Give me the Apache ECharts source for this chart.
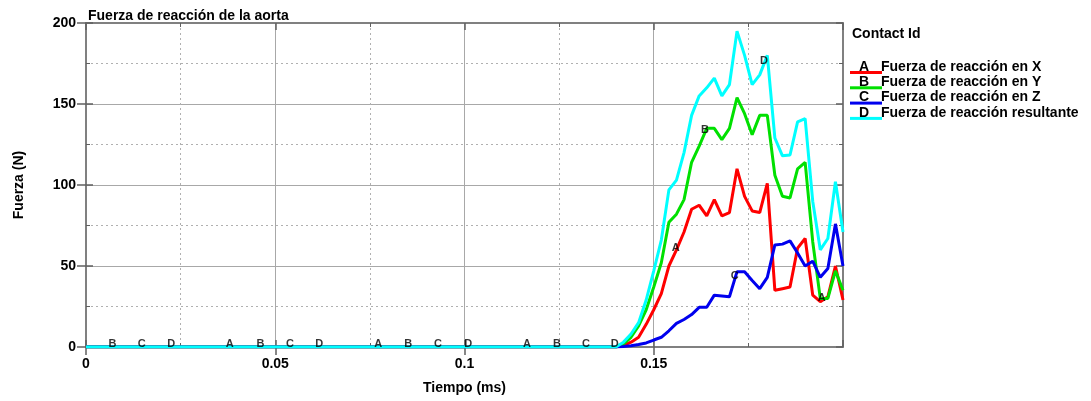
<!DOCTYPE html>
<html>
<head>
<meta charset="utf-8">
<script src="https://cdn.jsdelivr.net/npm/echarts@6/dist/echarts.min.js"></script>
<style>
  html, body { margin: 0; padding: 0; background: #ffffff; }
  #chart { width: 1091px; height: 401px; }
</style>
</head>
<body>
<div id="chart"></div>
<script>
// Sample times (ms) — all forces are zero until 0.14
const times = [0, 0.140, 0.142, 0.144, 0.146, 0.148, 0.150, 0.152, 0.154, 0.156, 0.158,
  0.160, 0.162, 0.164, 0.166, 0.168, 0.170, 0.172, 0.174, 0.176, 0.178,
  0.180, 0.182, 0.184, 0.186, 0.188, 0.190, 0.192, 0.194, 0.196, 0.198, 0.200];

// Reaction force components and resultant (N)
const fuerzaX = [0, 0, 1, 3, 6, 14, 23, 33, 50, 60, 71,
  85, 87.5, 81, 91, 81, 83, 110, 93, 84, 83,
  101, 35, 36, 37, 61, 67, 32, 28, 31, 50, 29];
const fuerzaY = [0, 0, 2, 6, 13, 23, 37, 52, 77, 82, 91,
  114, 124, 135, 135, 128, 135, 154, 144, 131, 143,
  143, 106, 93, 92, 110, 114, 65, 30, 30, 47, 35];
const fuerzaZ = [0, 0, 0.3, 0.8, 1.5, 2.5, 4.3, 6, 10, 14.6, 17,
  20, 24.5, 24.5, 32, 31.5, 31, 46.5, 46.5, 41, 36,
  43, 63, 63.5, 65.5, 58, 50, 53, 43, 48.5, 76, 50];
const fuerzaResultante = [0, 0, 3, 8, 15, 29, 47, 66, 97, 103, 120,
  143, 155, 160, 166, 155, 162, 195, 180, 162, 168,
  180, 129, 118, 118.5, 139, 141, 90, 60, 67, 102, 71];

const seriesNames = ['Fuerza de reacción en X', 'Fuerza de reacción en Y',
  'Fuerza de reacción en Z', 'Fuerza de reacción resultante'];
const seriesLetters = ['A', 'B', 'C', 'D'];
const seriesValues = [fuerzaX, fuerzaY, fuerzaZ, fuerzaResultante];
const seriesColors = ['#ff0000', '#00e000', '#0000ee', '#00ffff'];

// Times at which each curve carries its identifying letter
const letterTimes = [
  [0.0380, 0.0772, 0.1165, 0.1558, 0.1944],
  [0.0070, 0.0461, 0.0851, 0.1244, 0.1635],
  [0.0147, 0.0539, 0.0930, 0.1321, 0.1714],
  [0.0225, 0.0616, 0.1010, 0.1397, 0.1791]
];

const titleText = 'Fuerza de reacción de la aorta';
const legendTitle = 'Contact Id';
const xName = 'Tiempo (ms)';
const yName = 'Fuerza (N)';

const FONT = '"Liberation Sans", Arial, sans-serif';
const GRID = { left: 86, right: 248, top: 23, bottom: 54 };

// value on a curve at time t (for placing the letters on the lines)
function valueAt(vals, t) {
  for (let i = 0; i < times.length - 1; i++) {
    if (t >= times[i] && t <= times[i + 1]) {
      const f = (t - times[i]) / (times[i + 1] - times[i]);
      return vals[i] + f * (vals[i + 1] - vals[i]);
    }
  }
  return vals[vals.length - 1];
}

const lineSeries = seriesValues.map((vals, k) => ({
  name: seriesNames[k],
  type: 'line',
  data: times.map((t, i) => [t, vals[i]]),
  showSymbol: false,
  symbol: 'none',
  lineStyle: { color: seriesColors[k], width: 3 },
  itemStyle: { color: seriesColors[k] },
  z: 3 + k,
  silent: true
}));

const letterSeries = seriesValues.map((vals, k) => ({
  type: 'scatter',
  data: letterTimes[k].map(t => [t, valueAt(vals, t)]),
  symbol: 'circle',
  symbolSize: 1,
  itemStyle: { color: 'rgba(0,0,0,0)' },
  label: {
    show: true,
    position: 'inside',
    offset: [0, -3],
    formatter: seriesLetters[k],
    color: '#000',
    fontFamily: FONT,
    fontWeight: 'bold',
    fontSize: 11
  },
  z: 10,
  silent: true
}));

const frameColor = '#808080';
const majorGrid = { show: true, lineStyle: { color: '#a8a8a8', width: 1, type: 'solid' } };
const minorGrid = { show: true, lineStyle: { color: '#b0b0b0', width: 1, type: [2, 3] } };

const xBase = { type: 'value', min: 0, max: 0.2, interval: 0.05, gridIndex: 0 };
const yBase = { type: 'value', min: 0, max: 200, interval: 50, gridIndex: 0 };

const xAxes = [
  Object.assign({}, xBase, {
    position: 'bottom',
    name: xName,
    nameLocation: 'middle',
    nameGap: 34,
    nameTextStyle: { fontFamily: FONT, fontWeight: 'bold', fontSize: 14, color: '#000' },
    axisLine: { show: true, onZero: false, lineStyle: { color: frameColor, width: 2 } },
    axisTick: { show: true, inside: false, length: 8, lineStyle: { color: '#606060', width: 1.5 } },
    axisLabel: {
      show: true, margin: 10, showMaxLabel: false,
      fontFamily: FONT, fontWeight: 'bold', fontSize: 14, color: '#000',
      formatter: v => String(Number(v.toFixed(3)))
    },
    splitLine: majorGrid,
    minorTick: { show: false, splitNumber: 2 },
    minorSplitLine: minorGrid
  }),
  Object.assign({}, xBase, {
    position: 'bottom',
    axisLine: { show: false, onZero: false },
    axisTick: { show: true, inside: true, length: 7, lineStyle: { color: '#606060', width: 1.5 } },
    minorTick: { show: true, splitNumber: 2, length: 4, lineStyle: { color: '#606060' } },
    axisLabel: { show: false },
    splitLine: { show: false }
  }),
  Object.assign({}, xBase, {
    position: 'top',
    axisLine: { show: true, onZero: false, lineStyle: { color: frameColor, width: 2 } },
    axisTick: { show: true, inside: true, length: 7, lineStyle: { color: '#606060', width: 1.5 } },
    minorTick: { show: true, splitNumber: 2, length: 4, lineStyle: { color: '#606060' } },
    axisLabel: { show: false },
    splitLine: { show: false }
  })
];

const yAxes = [
  Object.assign({}, yBase, {
    position: 'left',
    name: yName,
    nameLocation: 'middle',
    nameGap: 60,
    nameTextStyle: { fontFamily: FONT, fontWeight: 'bold', fontSize: 14, color: '#000' },
    axisLine: { show: true, onZero: false, lineStyle: { color: frameColor, width: 2 } },
    axisTick: { show: true, inside: false, length: 9, lineStyle: { color: '#606060', width: 1.5 } },
    axisLabel: { show: true, margin: 10, fontFamily: FONT, fontWeight: 'bold', fontSize: 14, color: '#000' },
    splitLine: majorGrid,
    minorTick: { show: false, splitNumber: 2 },
    minorSplitLine: minorGrid
  }),
  Object.assign({}, yBase, {
    position: 'left',
    axisLine: { show: false, onZero: false },
    axisTick: { show: true, inside: true, length: 7, lineStyle: { color: '#606060', width: 1.5 } },
    minorTick: { show: true, splitNumber: 2, length: 4, lineStyle: { color: '#606060' } },
    axisLabel: { show: false },
    splitLine: { show: false }
  }),
  Object.assign({}, yBase, {
    position: 'right',
    axisLine: { show: true, onZero: false, lineStyle: { color: frameColor, width: 2 } },
    axisTick: { show: true, inside: true, length: 7, lineStyle: { color: '#606060', width: 1.5 } },
    minorTick: { show: true, splitNumber: 2, length: 4, lineStyle: { color: '#606060' } },
    axisLabel: { show: false },
    splitLine: { show: false }
  })
];

// Legend block: heading, then one row per curve (underlined letter + name)
const legendX = 850;
const legendRowY0 = 67;
const legendRowStep = 15.3;
const legendGraphics = [{
  type: 'text', x: 852, y: 34, silent: true,
  style: { text: legendTitle, fill: '#000', font: 'bold 14px ' + FONT, verticalAlign: 'middle', align: 'left' }
}];
seriesNames.forEach((name, k) => {
  const cy = legendRowY0 + k * legendRowStep;
  legendGraphics.push({
    type: 'line', silent: true,
    shape: { x1: legendX, y1: cy + 5.5, x2: legendX + 32, y2: cy + 5.5 },
    style: { stroke: seriesColors[k], lineWidth: 3 }
  });
  legendGraphics.push({
    type: 'text', x: legendX + 14, y: cy, silent: true,
    style: { text: seriesLetters[k], fill: '#000', font: 'bold 14px ' + FONT, verticalAlign: 'middle', align: 'center' }
  });
  legendGraphics.push({
    type: 'text', x: legendX + 31, y: cy, silent: true,
    style: { text: name, fill: '#000', font: 'bold 14px ' + FONT, verticalAlign: 'middle', align: 'left' }
  });
});

const chart = echarts.init(document.getElementById('chart'), null, { renderer: 'canvas' });
chart.setOption({
  animation: false,
  backgroundColor: '#ffffff',
  title: {
    text: titleText,
    left: 83, top: 4,
    textStyle: { fontFamily: FONT, fontWeight: 'bold', fontSize: 14, color: '#000' }
  },
  grid: GRID,
  xAxis: xAxes,
  yAxis: yAxes,
  series: lineSeries.concat(letterSeries),
  graphic: legendGraphics
});
</script>
</body>
</html>
